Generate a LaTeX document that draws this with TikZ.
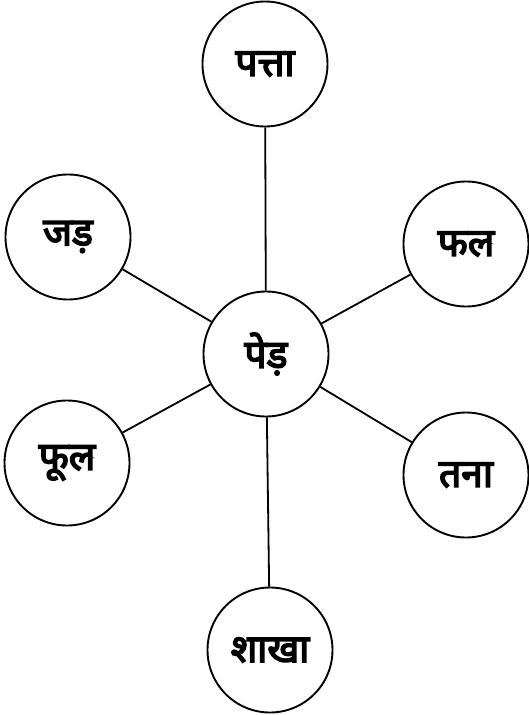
\documentclass[tikz,border=0pt]{standalone}
\usepackage{fontspec}
\newfontfamily\devfont[Script=Devanagari,FakeBold=4]{Noto Sans}
\usetikzlibrary{positioning}
\tikzset{
  word/.style={circle,draw,line width=1.9pt,minimum size=125pt,inner sep=0pt,
    font=\devfont\fontsize{39}{42}\selectfont},
  link/.style={line width=1.8pt}
}

\begin{document}
\begin{tikzpicture}[x=1pt,y=-1pt]
\useasboundingbox (0,0) rectangle (529,715);
\node[word] (ped) at (266,354) {पेड़};
\node[word] (patta) at (265,64) {पत्ता};
\node[word] (jad) at (68,237) {जड़};
\node[word] (phal) at (466,244) {फल};
\node[word] (phool) at (67,463) {फूल};
\node[word] (tana) at (466,475) {तना};
\node[word] (shakha) at (270,650) {शाखा};
\draw[link] (patta) -- (ped);
\draw[link] (jad) -- (ped);
\draw[link] (phal) -- (ped);
\draw[link] (phool) -- (ped);
\draw[link] (tana) -- (ped);
\draw[link] (shakha) -- (ped);
\end{tikzpicture}
\end{document}
